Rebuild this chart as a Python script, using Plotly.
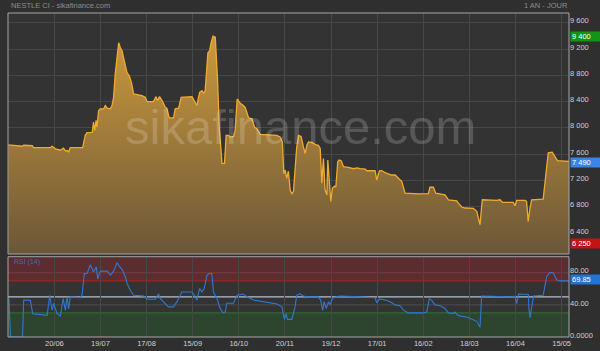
import plotly.graph_objects as go

# ---------------- data ----------------
tick_dates = ["20/06", "19/07", "17/08", "15/09", "16/10", "20/11",
              "19/12", "17/01", "16/02", "18/03", "16/04", "15/05"]
tick_idx = [20, 40, 60, 80, 100, 120, 140, 160, 180, 200, 220, 240]

price_idx = [0, 6.0, 6.7, 10.4, 11.0, 18.3, 19.0, 20.5, 22.6, 24.0, 24.8, 25.5, 26.2, 26.9,
             32.3, 33.4, 34.2, 36.4, 37.0, 37.5, 38.1, 38.5, 39.2, 39.9, 41.4, 42.1, 42.9,
             44.3, 45.0, 45.7, 46.4, 47.9, 48.6, 49.4, 50.0, 51.5, 52.5, 53.4, 54.4, 58.0,
             59.4, 60.2, 63.0, 64.1, 64.8, 65.6, 66.7, 68.1, 68.8, 69.8, 71.7, 72.4, 73.9,
             75.0, 79.7, 81.8, 83.0, 84.0, 84.7, 85.4, 86.6, 87.3, 88.0, 88.8, 89.8, 90.8,
             91.5, 92.7, 93.8, 94.5, 95.5, 96.3, 97.7, 98.4, 99.3, 100.6, 102.0, 102.8,
             104.2, 105.7, 106.8, 107.8, 109.3, 116.5, 117.9, 118.9, 119.5, 120.1, 120.8,
             121.5, 122.3, 123.0, 123.7, 124.4, 125.1, 125.9, 127.0, 128.0, 128.8, 129.5,
             130.2, 131.7, 133.1, 134.5, 135.3, 136.0, 136.7, 137.4, 138.2, 138.6, 139.2,
             139.9, 140.6, 141.5, 142.1, 142.9, 143.5, 144.4, 145.4, 147.5, 149.7, 151.2,
             152.6, 154.8, 155.5, 159.1, 159.8, 161.0, 162.0, 163.4, 166.3, 167.8, 170.7,
             172.1, 177.9, 180.7, 182.2, 182.9, 184.4, 185.4, 189.4, 190.9, 193.0, 193.8,
             194.5, 195.2, 196.7, 198.1, 201.7, 203.2, 203.9, 204.6, 205.6, 207.5, 208.9,
             211.8, 213.3, 214.3, 219.0, 219.8, 220.5, 224.1, 224.8, 225.5, 226.3, 227.0,
             232.0, 233.1, 234.2, 235.9, 237.1, 238.2, 243.2]
price_val = [7740, 7720, 7735, 7730, 7700, 7700, 7720, 7680, 7660, 7690, 7650, 7655, 7635, 7700,
             7700, 7886, 7927, 7930, 8087, 7960, 8113, 8010, 8264, 8289, 8290, 8340, 8300,
             8290, 8340, 8465, 8818, 9295, 9220, 9170, 9070, 8842, 8792, 8690, 8515, 8490,
             8465, 8400, 8400, 8475, 8415, 8475, 8415, 8313, 8300, 8153, 8153, 8289, 8300,
             8465, 8475, 8340, 8540, 8565, 8530, 8565, 9144, 9170, 9295, 9396, 9380, 8717,
             8012, 7459, 7459, 7886, 7886, 7860, 7870, 7960, 8440, 8374, 8340, 8310,
             8153, 8138, 8012, 7986, 7901, 7886, 7860, 7785, 7300, 7358, 7230,
             7340, 7050, 6995, 7030, 7308, 7700, 7886, 7870, 7710, 7610, 7735,
             7785, 7780, 7746, 7735, 7685, 7157, 7534, 7056, 6980, 7509, 7157,
             6879, 7081, 7115, 7100, 7483, 7509, 7500, 7408, 7400, 7378, 7390,
             7380, 7373, 7347, 7347, 7207, 7347, 7350, 7317, 7282, 7282, 7181,
             7006, 6995, 6995, 7000, 7096, 7096, 7006, 6980, 6905, 6900, 6890,
             6890, 6855, 6795, 6780, 6775, 6730, 6630, 6527, 6905, 6900, 6905,
             6895, 6905, 6865, 6865, 6814, 6895, 6895, 6880, 6577, 6780, 6905,
             6915, 7308, 7619, 7630, 7560, 7500, 7490]

rsi_idx = [0.3, 1.0, 6.2, 6.7, 9.6, 10.6, 16.9, 18.0, 19.0, 19.7, 21.2, 22.6, 23.8, 24.8,
           25.5, 26.2, 26.9, 31.3, 32.0, 33.0, 34.2, 35.6, 37.0, 38.2, 38.8, 39.9, 42.9,
           44.3, 45.7, 47.2, 48.2, 49.4, 50.8, 51.5, 53.0, 54.4, 58.7, 60.2, 63.8, 65.2,
           65.9, 67.4, 69.5, 71.7, 73.2, 75.3, 79.7, 81.1, 81.8, 83.0, 84.0, 85.0, 86.2,
           87.3, 88.3, 89.0, 90.5, 91.9, 93.1, 94.1, 94.8, 97.7, 99.2, 102.0, 103.5,
           106.4, 110.7, 116.5, 118.7, 119.8, 120.5, 121.1, 123.0, 124.4, 125.1, 126.5,
           128.0, 129.5, 134.5, 135.5, 136.4, 137.0, 137.9, 138.9, 139.6, 140.3, 141.0,
           143.9, 152.6, 159.1, 159.8, 161.0, 163.4, 165.6, 167.8, 169.9, 171.4, 173.5,
           180.0, 181.5, 182.6, 183.6, 185.1, 187.3, 189.4, 190.9, 193.0, 193.8, 194.5,
           196.0, 198.8, 201.7, 203.2, 204.6, 205.3, 218.3, 219.8, 220.5, 221.3, 225.6,
           225.8, 226.3, 227.0, 227.8, 232.0, 233.5, 234.9, 236.4, 237.9, 239.3, 243.2]
rsi_val = [48, 0, 0, 46, 45.6, 29, 27, 52, 33, 42, 29, 26, 48, 33,
           50, 35, 50, 49, 52, 79, 79, 90, 81, 87.5, 72, 82, 82,
           77, 82, 92.5, 88, 84, 75, 67, 58, 52, 51, 47, 47, 53.5,
           48, 44, 37.5, 37.5, 44, 56, 56, 50, 46, 60.5, 56, 60.5, 77,
           79, 79, 56, 48, 35.5, 30, 31, 42, 42, 52, 53.5, 50,
           46, 44, 41, 37.5, 22, 29, 22, 22, 37.5, 52, 54,
           51, 50, 50, 46, 33, 44, 35.5, 44, 40, 46, 49,
           51, 50, 49, 42.5, 47.5, 46, 44, 40, 39, 33.5, 30,
           30, 31, 47.5, 46, 40, 39, 35.5, 30, 29.5, 31, 28,
           26, 25, 21.5, 19.5, 12, 51, 50, 50.5, 41.5, 53.5, 53,
           35.5, 24, 35, 51, 52, 75, 80.5, 80, 71, 69.85, 69.85]

price_ticks = [6400, 6800, 7200, 7600, 8000, 8400, 8800, 9200, 9600]
price_tick_text = ["6 400", "6 800", "7 200", "7 600", "8 000", "8 400", "8 800", "9 200", "9 600"]
rsi_ticks = [0, 40, 80]
rsi_tick_text = ["0.0000", "40.00", "80.00"]

price_high, price_last, price_low = 9400, 7490, 6250
rsi_last = 69.85

# ---------------- figure ----------------
BG = "#2f2f2f"
PLOT_BG = "#333333"
GRID = "#474747"
TXT = "#cfcfcf"
FONT = "Liberation Sans, Arial, sans-serif"

fig = go.Figure()

fig.add_trace(go.Scatter(
    x=price_idx, y=price_val, mode="lines",
    line=dict(color="#f2aa2e", width=1.3),
    fill="tozeroy",
    fillgradient=dict(type="vertical", start=6080, stop=9748,
                      colorscale=[[0, "rgba(108,88,56,0.97)"], [1, "rgba(222,165,62,0.95)"]]),
    xaxis="x", yaxis="y", hoverinfo="skip", showlegend=False))

fig.add_trace(go.Scatter(
    x=rsi_idx, y=rsi_val, mode="lines",
    line=dict(color="#2f78d2", width=1.1),
    xaxis="x2", yaxis="y2", hoverinfo="skip", showlegend=False))

shapes = []
# RSI bands
shapes.append(dict(type="rect", xref="x2 domain", yref="y2", x0=0, x1=1, y0=70, y1=100,
                   fillcolor="#5b2c30", line_width=0, layer="below"))
shapes.append(dict(type="rect", xref="x2 domain", yref="y2", x0=0, x1=1, y0=0, y1=30,
                   fillcolor="#2d452e", line_width=0, layer="below"))
for lvl, col, w in [(80, "#7a3c3f", 1), (70, "#a12222", 1.2), (40, "#4e4e4e", 1),
                    (30, "#2f6b30", 1.2), (50, "#b4c2d2", 1.4)]:
    shapes.append(dict(type="line", xref="x2 domain", yref="y2", x0=0, x1=1, y0=lvl, y1=lvl,
                       line=dict(color=col, width=w), layer="below"))
# panel borders
for ax in ["", "2"]:
    shapes.append(dict(type="rect", xref=f"x{ax} domain", yref=f"y{ax} domain",
                       x0=0, x1=1, y0=0, y1=1, line=dict(color="#a6a6a6", width=1),
                       fillcolor="rgba(0,0,0,0)", layer="above"))

annotations = [
    dict(text="sikafinance.com", xref="paper", yref="paper", x=0.5205, y=0.648,
         showarrow=False, font=dict(size=49, color="rgba(255,255,255,0.18)", family=FONT),
         xanchor="center", yanchor="middle"),
    dict(text="NESTLE CI - sikafinance.com", xref="paper", yref="paper", x=0, y=1.0231,
         xshift=1, showarrow=False, xanchor="left", yanchor="middle",
         font=dict(size=7.5, color="#8c8c8c", family=FONT)),
    dict(text="1 AN - JOUR", xref="paper", yref="paper", x=1.0018, y=1.0231,
         showarrow=False, xanchor="right", yanchor="middle",
         font=dict(size=7.5, color="#8c8c8c", family=FONT)),
    dict(text="RSI (14)", xref="paper", yref="paper", x=0.0066, y=0.2324,
         showarrow=False, xanchor="left", yanchor="middle",
         font=dict(size=7, color="#3a6ec0", family=FONT)),
]
for val, txt, col, yref, ysh in [(price_high, "9 400", "#149414", "y", -0.5),
                                 (price_last, "7 490", "#3a84e6", "y", -1),
                                 (price_low, "6 250", "#c41313", "y", -1),
                                 (rsi_last, "69.85", "#2473d6", "y2", 1)]:
    annotations.append(dict(text=txt, xref="paper", yref=yref, x=1, y=val, xshift=1, yshift=ysh,
                            showarrow=False, xanchor="left", yanchor="middle",
                            bgcolor=col, width=28, height=7, borderpad=1, align="left",
                            font=dict(size=7.5, color="#ffffff", family=FONT)))

fig.update_layout(
    width=600, height=351,
    margin=dict(l=8, r=31, t=13, b=14, autoexpand=False),
    paper_bgcolor=BG, plot_bgcolor=PLOT_BG,
    font=dict(family=FONT, size=7.5, color=TXT),
    shapes=shapes, annotations=annotations,
    xaxis=dict(domain=[0, 1], anchor="y", range=[-0.1, 243.2], tickvals=tick_idx,
               showticklabels=False, showgrid=True, gridcolor=GRID, gridwidth=1,
               zeroline=False, showline=False, ticks="", automargin=False),
    xaxis2=dict(domain=[0, 1], anchor="y2", matches="x", range=[-0.1, 243.2],
                tickvals=tick_idx, ticktext=tick_dates, showgrid=True, gridcolor=GRID,
                zeroline=False, showline=False, ticks="", automargin=False,
                tickfont=dict(size=7.5, color=TXT)),
    yaxis=dict(domain=[0.2562, 1], anchor="x", side="right", range=[6080, 9748],
               tickvals=price_ticks, ticktext=price_tick_text, showgrid=True,
               gridcolor=GRID, zeroline=False, ticks="", ticklabelshift=-2, automargin=False,
               tickfont=dict(size=7.5, color=TXT)),
    yaxis2=dict(domain=[0, 0.2478], anchor="x2", side="right", range=[0, 100],
                tickvals=rsi_ticks, ticktext=rsi_tick_text, showgrid=False,
                zeroline=False, ticks="", ticklabelshift=-2, automargin=False,
                tickfont=dict(size=7.5, color=TXT)),
)

fig.write_html("out.html")
